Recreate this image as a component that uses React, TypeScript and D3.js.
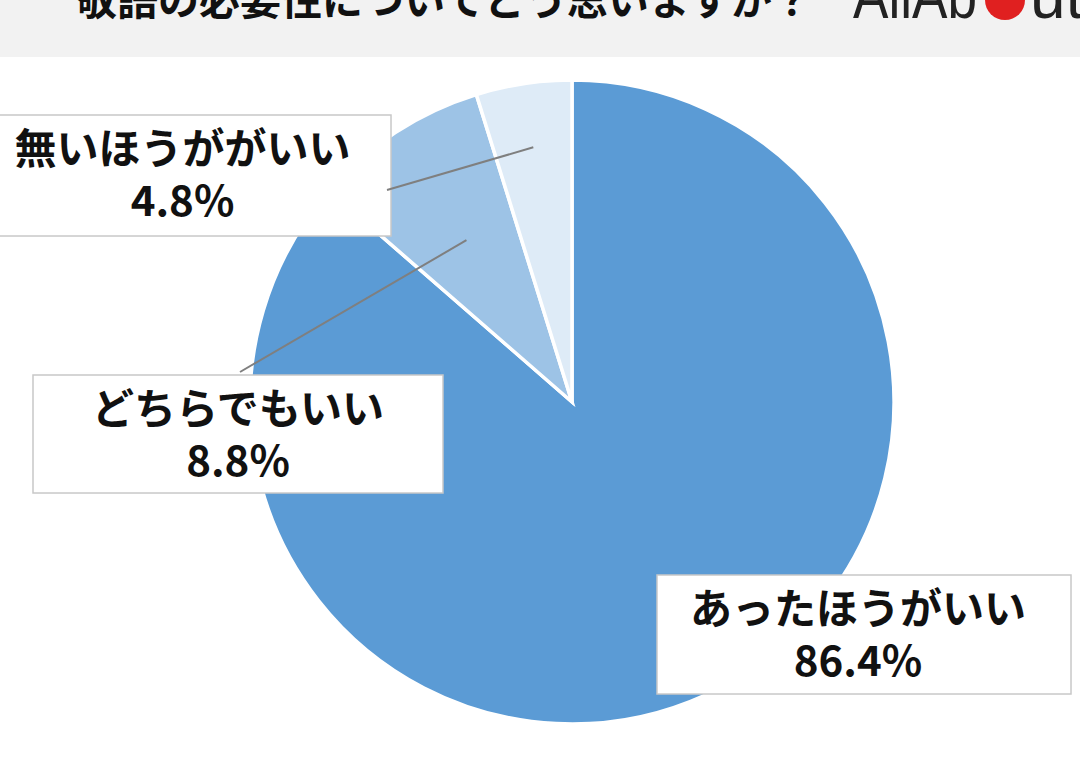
import * as React from "react";
import * as d3 from "d3";

const categories = ["あったほうがいい", "どちらでもいい", "無いほうががいい"];
const values = [86.4, 8.8, 4.8];
const colors = ["#5b9bd5", "#9dc3e6", "#deebf7"];
const title = "敬語の必要性についてどう思いますか？";

const W = 1080;
const H = 775;
const cx = 572;
const cy = 402;
const R = 322;

// label boxes and how far into the slice the leader reaches
const boxes = [
    { x: 657, y: 575, w: 414, h: 119, lead: null as null | number },
    { x: 33, y: 375, w: 410, h: 118, lead: 0.6 },
    { x: -10, y: 115, w: 401, h: 121, lead: 0.8 },
];

export default function App() {
    const pie = d3.pie<number>().sort(null).value(d => d);
    const arcs = pie(values);
    const arc = d3.arc<d3.PieArcDatum<number>>().innerRadius(0).outerRadius(R);
    const font = "'Noto Sans CJK JP', 'Noto Sans', sans-serif";
    const logoFont = "'Liberation Sans', sans-serif";

    return (
        <svg width={W} height={H} style={{ position: "absolute", left: 0, top: 0 }}>
            <rect x={0} y={0} width={W} height={H} fill="#ffffff" />
            <rect x={0} y={0} width={W} height={57} fill="#f2f2f2" />
            <text x={76} y={15} fontFamily={font} fontWeight={700} fontSize={41} fill="#111">
                {title}
            </text>
            {/* logo, cropped at the top */}
            <text x={853} y={18} fontFamily={logoFont} fontWeight={300} fontSize={64} fill="#222"
                textLength={124} lengthAdjust="spacingAndGlyphs">AllAb</text>
            <circle cx={1005} cy={0} r={20} fill="#e02020" />
            <text x={1030} y={18} fontFamily={logoFont} fontWeight={300} fontSize={64} fill="#222">ut</text>

            <g transform={`translate(${cx},${cy})`}>
                {arcs.map((a, i) => (
                    <path key={i} d={arc(a) || ""} fill={colors[i]} stroke="#ffffff" strokeWidth={3.5} />
                ))}
            </g>

            {arcs.map((a, i) => {
                const b = boxes[i];
                let leader = null;
                if (b.lead !== null) {
                    const mid = (a.startAngle + a.endAngle) / 2;
                    const r = R * b.lead;
                    const ex = cx + Math.sin(mid) * r;
                    const ey = cy - Math.cos(mid) * r;
                    const sx = i === 1 ? b.x + 207 : b.x + b.w - 4;
                    const sy = i === 1 ? b.y - 3 : b.y + 75;
                    leader = <line x1={sx} y1={sy} x2={ex} y2={ey} stroke="#7f7f7f" strokeWidth={2} />;
                }
                const tx = b.x + b.w / 2 + (i === 2 ? -8 : i === 1 ? 0 : -6);
                return (
                    <g key={"l" + i}>
                        <rect x={b.x} y={b.y} width={b.w} height={b.h} fill="#ffffff" stroke="#c8c8c8" strokeWidth={1.5} />
                        {leader}
                        <text x={tx} y={b.y + 49} textAnchor="middle" fontFamily={font} fontWeight={700}
                            fontSize={42} fill="#111">{categories[i]}</text>
                        <text x={tx} y={b.y + 101} textAnchor="middle" fontFamily={font} fontWeight={700}
                            fontSize={42} fill="#111">{values[i].toFixed(1) + "%"}</text>
                    </g>
                );
            })}
        </svg>
    );
}
